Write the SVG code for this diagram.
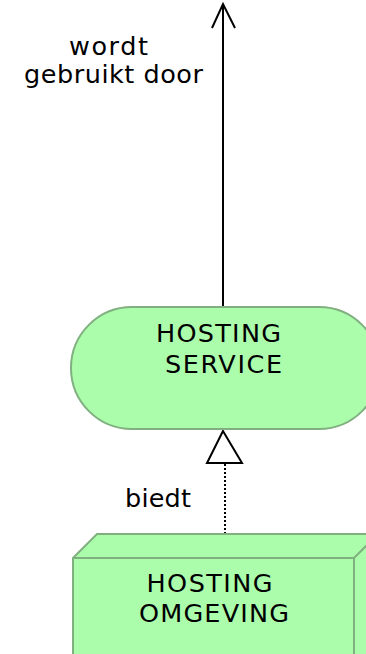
<svg xmlns="http://www.w3.org/2000/svg" width="366" height="654" viewBox="0 0 366 654">
<defs>
<style>
.t{font-family:"DejaVu Sans","Liberation Sans",sans-serif;font-size:25.5px;fill:#000;text-anchor:middle}
.n{fill:#abfcab;stroke:#80b080;stroke-width:2}
.c{fill:none;stroke:#000;stroke-width:2}
</style>
</defs>
<rect width="366" height="654" fill="#fff"/>
<g id="connectors">
<g id="used-by">
<line class="c" x1="223" y1="4" x2="223" y2="307"/>
<polyline class="c" points="212,28 223,4 235,28"/>
<text class="t" x="108.5" y="55" textLength="79" lengthAdjust="spacing">wordt</text>
<text class="t" x="113.5" y="83" textLength="179" lengthAdjust="spacing">gebruikt door</text>
</g>
<g id="realization">
<line x1="225" y1="464" x2="225" y2="534" stroke="#000" stroke-width="2" stroke-dasharray="2,2"/>
<polygon points="223,431 207,463 242,463" fill="#fff" stroke="#000" stroke-width="2"/>
<text class="t" x="158" y="507" textLength="66" lengthAdjust="spacing">biedt</text>
</g>
</g>
<g id="hosting-service">
<rect class="n" x="71" y="307" width="309" height="122" rx="61" ry="61"/>
<text class="t" x="218.5" y="342" textLength="125" lengthAdjust="spacing">HOSTING</text>
<text class="t" x="223.5" y="373" textLength="117" lengthAdjust="spacing">SERVICE</text>
</g>
<g id="hosting-omgeving">
<path class="n" d="M73,558 L97,534 L378,534 L378,680 L73,680 Z"/>
<path class="n" d="M73,558 L354,558 L378,534 M354,558 L354,680"/>
<text class="t" x="209.5" y="592" textLength="126" lengthAdjust="spacing">HOSTING</text>
<text class="t" x="214" y="622" textLength="150" lengthAdjust="spacing">OMGEVING</text>
</g>
</svg>
